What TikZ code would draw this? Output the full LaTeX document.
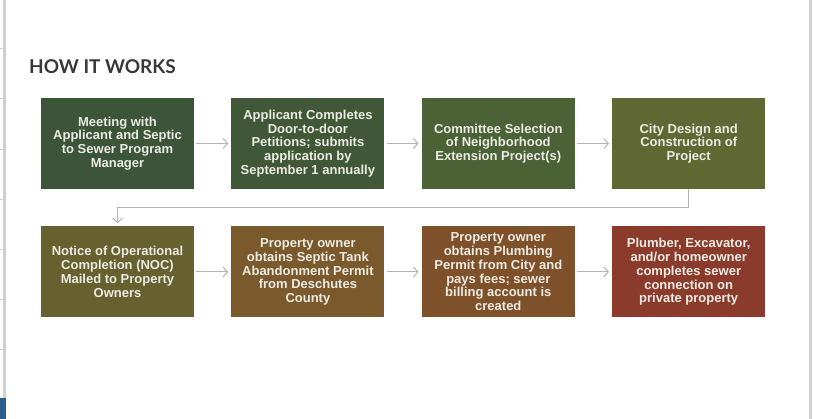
\documentclass[tikz,border=0pt]{standalone}
\usepackage{fontspec}
\setmainfont{Liberation Sans}
\newfontfamily\titlefont{Lato}
\usetikzlibrary{positioning,arrows.meta}
\definecolor{meetgreen}{HTML}{3C5538}
\definecolor{petgreen}{HTML}{405837}
\definecolor{selgreen}{HTML}{4B6136}
\definecolor{designolive}{HTML}{5F6833}
\definecolor{noticeolive}{HTML}{67612F}
\definecolor{septicbrown}{HTML}{7A5A2D}
\definecolor{plumbbrown}{HTML}{7F512B}
\definecolor{connectred}{HTML}{8B3B2B}
\definecolor{boxtext}{HTML}{ECEBE3}
\definecolor{linkgray}{HTML}{B4B4B4}
\definecolor{framegray}{HTML}{D0D0D0}
\definecolor{tabblue}{HTML}{2A5F8A}

\begin{document}
\begin{tikzpicture}[x=1pt, y=-1pt, node distance=37pt,
    >={Straight Barb[length=4.5pt, width=10pt, line width=1pt]},
    stepbox/.style={rectangle, inner sep=0pt, align=center, text=boxtext,
      minimum width=153pt, minimum height=91pt,
      font=\bfseries\fontsize{13}{13.75}\selectfont},
    link/.style={->, linkgray, line width=1pt, shorten <=2pt, shorten >=3pt}]
    \useasboundingbox (0,0) rectangle (814,419);
    \fill[framegray] (3,0) rectangle (6,398);
    \foreach \y in {49,99,150,200,250,300,350}
      \draw[framegray, line width=1pt] (0,\y) -- (3,\y);
    \fill[tabblue] (0,398) rectangle (6,419);
    \fill[framegray] (809,0) rectangle (812,419);
    \node[anchor=base west, inner sep=0pt, text=black!78,
      font=\titlefont\bfseries\fontsize{19}{23}\selectfont] (title) at (29,74) {HOW IT WORKS};
    \node[stepbox, fill=meetgreen] (meeting) at (117.5,143.5)
      {Meeting with\\Applicant and Septic\\to Sewer Program\\Manager};
    \node[stepbox, fill=petgreen, right=of meeting] (petitions)
      {Applicant Completes\\Door-to-door\\Petitions; submits\\application by\\September 1 annually};
    \node[stepbox, fill=selgreen, right=of petitions] (selection)
      {Committee Selection\\of Neighborhood\\Extension Project(s)};
    \node[stepbox, fill=designolive, right=of selection] (design)
      {City Design and\\Construction of\\Project};
    \node[stepbox, fill=noticeolive, below=of meeting] (notice)
      {Notice of Operational\\Completion (NOC)\\Mailed to Property\\Owners};
    \node[stepbox, fill=septicbrown, right=of notice] (septic)
      {Property owner\\obtains Septic Tank\\Abandonment Permit\\from Deschutes\\County};
    \node[stepbox, fill=plumbbrown, right=of septic] (plumbing)
      {Property owner\\obtains Plumbing\\Permit from City and\\pays fees; sewer\\billing account is\\created};
    \node[stepbox, fill=connectred, right=of plumbing] (connection)
      {Plumber, Excavator,\\and/or homeowner\\completes sewer\\connection on\\private property};
    \draw[link] (meeting) -- (petitions);
    \draw[link] (petitions) -- (selection);
    \draw[link] (selection) -- (design);
    \draw[link, shorten <=0pt] (design.south) -- ++(0,18) -| (notice.north);
    \draw[link] (notice) -- (septic);
    \draw[link] (septic) -- (plumbing);
    \draw[link] (plumbing) -- (connection);
  \end{tikzpicture}
\end{document}
